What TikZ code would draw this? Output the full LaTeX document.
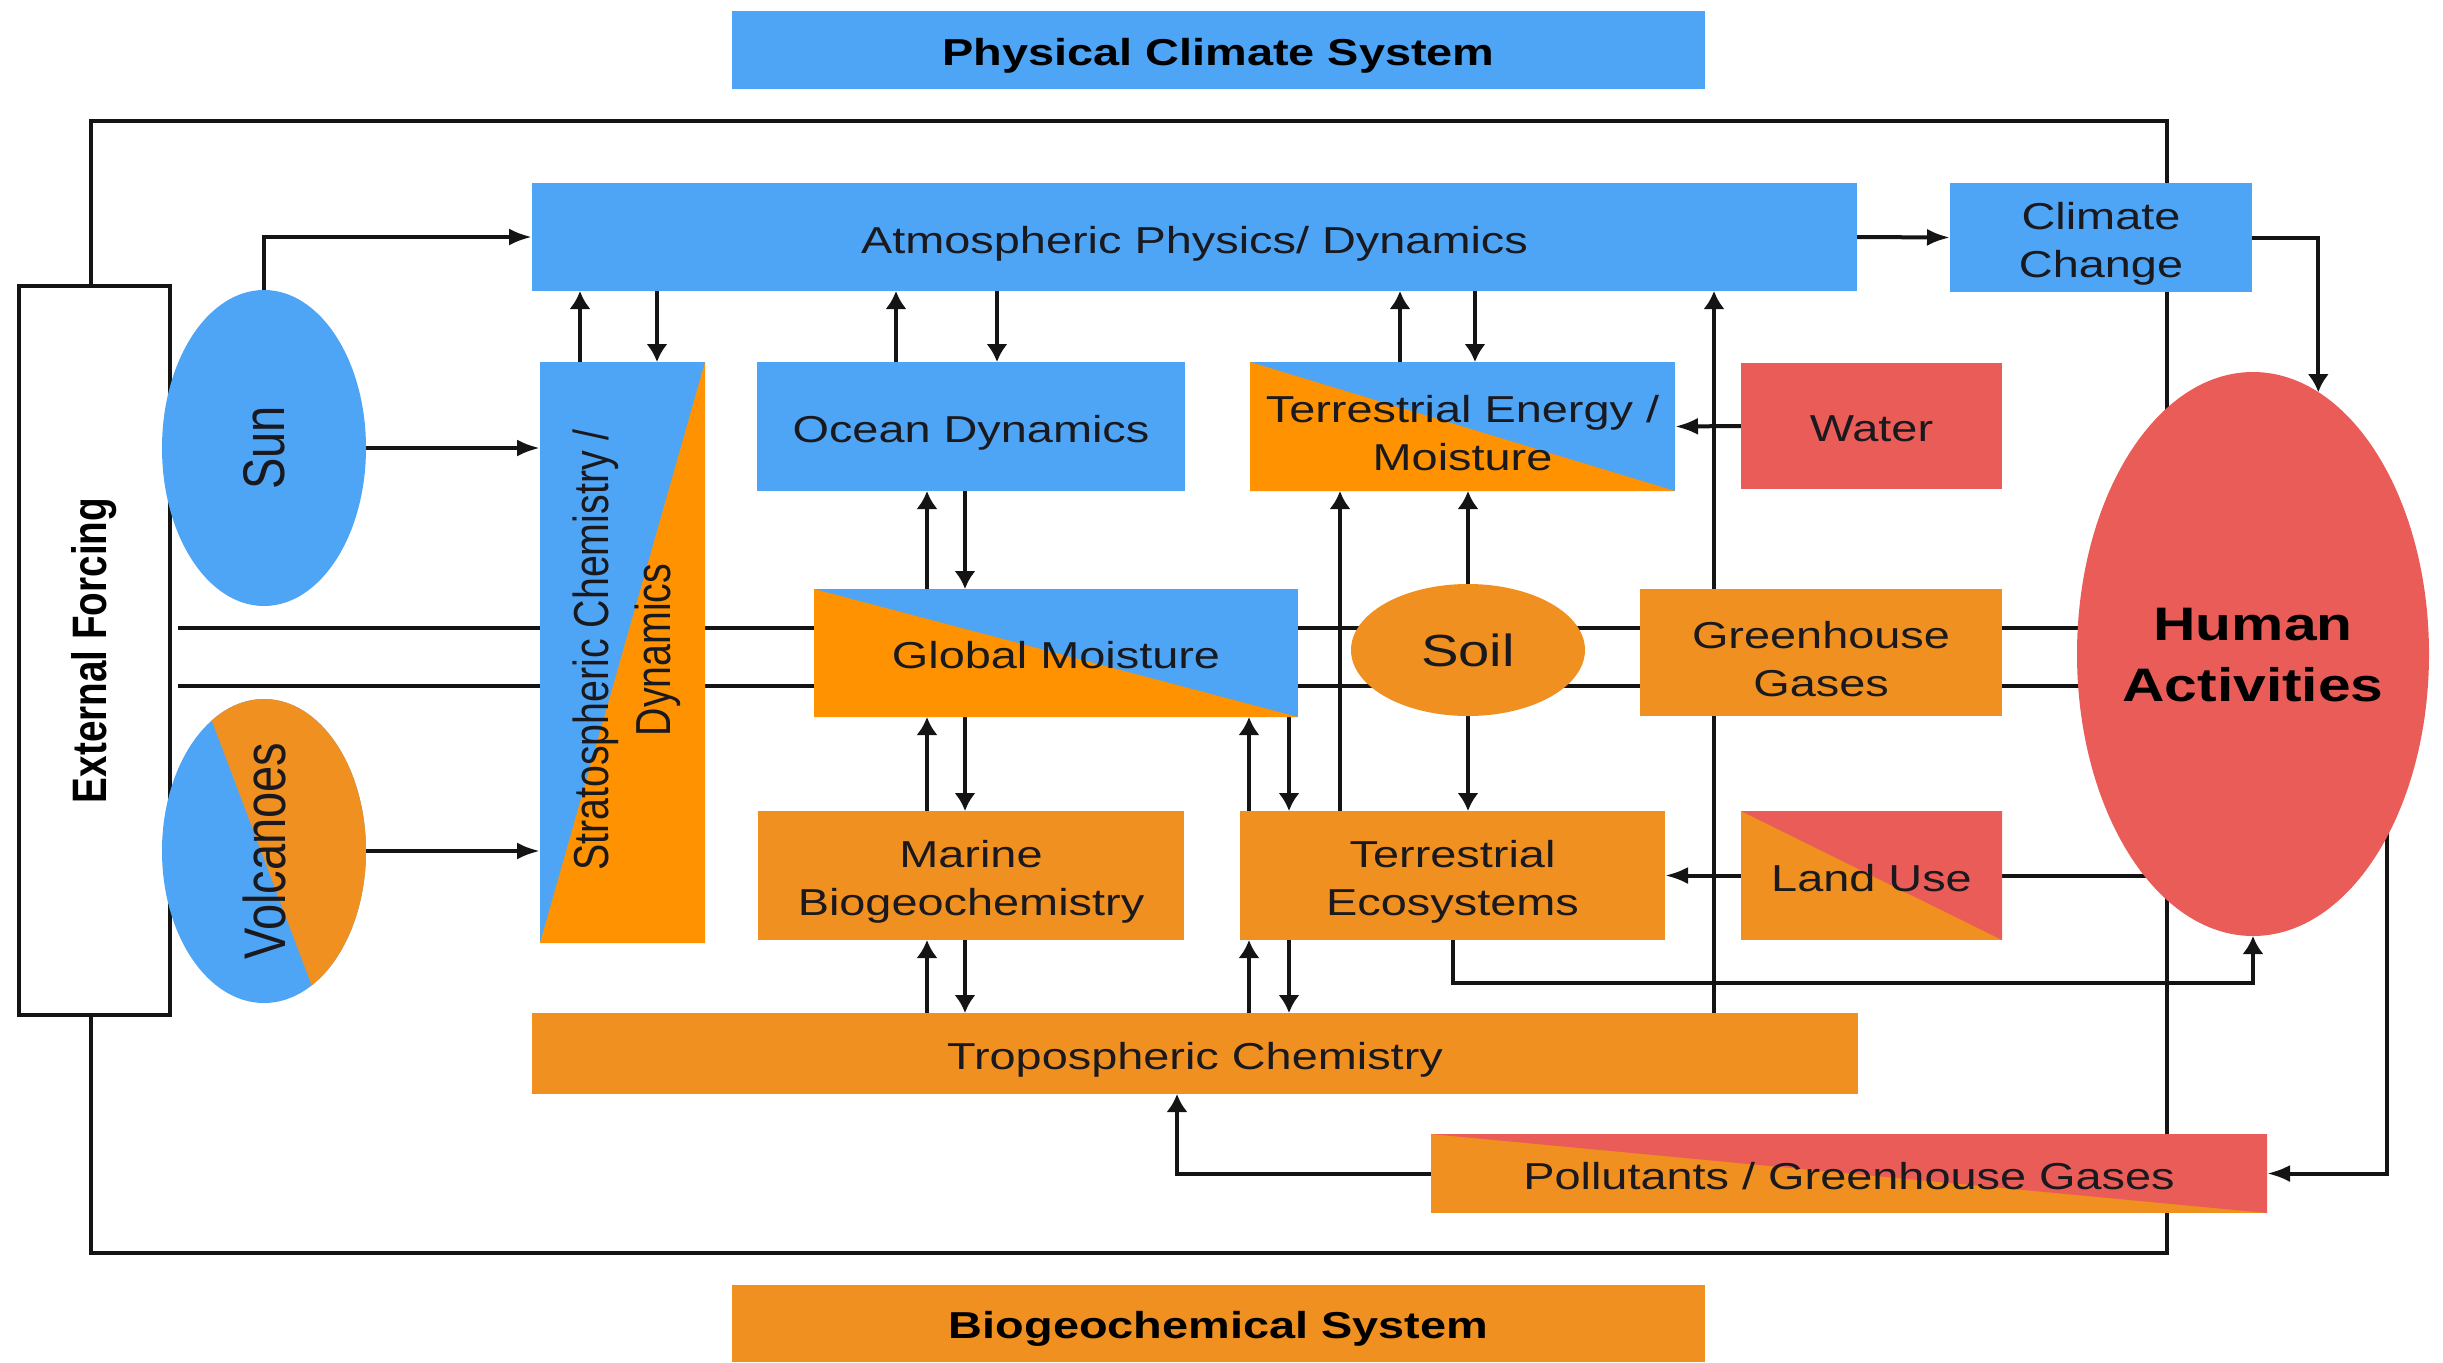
\documentclass[tikz,border=0pt]{standalone}
\usepackage{fontspec}
\setmainfont{Liberation Sans}[FakeStretch=1.25]
\newfontfamily\rotfont{Liberation Sans}
\usepackage{graphicx}
\usetikzlibrary{shapes.geometric, arrows.meta, backgrounds}
\definecolor{cblue}{RGB}{78,164,245}
\definecolor{corg}{RGB}{240,144,32}
\definecolor{corgb}{RGB}{255,146,0}
\definecolor{cred}{RGB}{234,92,88}
\definecolor{ctxt}{RGB}{25,25,30}
\definecolor{cline}{RGB}{20,20,20}
\begin{document}
\begin{tikzpicture}[x=0.3pt, y=-0.3pt,
  bx/.style 2 args={rectangle, inner sep=0pt, outer sep=0pt, minimum width=#1*0.3pt, minimum height=#2*0.3pt},
  lbl/.style={text=ctxt, font=\fontsize{11.25pt}{14.4pt}\selectfont, align=center},
  ttl/.style={text=black, font=\bfseries\fontsize{11.25pt}{14.4pt}\selectfont, align=center},
  ell/.style={ellipse, inner sep=0pt, outer sep=0pt},
  lowleft/.style={path picture={\fill[#1] (path picture bounding box.north west) -- (path picture bounding box.south west) -- (path picture bounding box.south east) -- cycle;}},
  upright/.style={path picture={\fill[#1] (path picture bounding box.north west) -- (path picture bounding box.north east) -- (path picture bounding box.south east) -- cycle;}},
  lowright/.style={path picture={\fill[#1] (path picture bounding box.north east) -- (path picture bounding box.south east) -- (path picture bounding box.south west) -- cycle;}},
  ln/.style={line width=1.2pt, draw=cline},
  ah/.style={ln, -{Latex[length=6.9pt,width=5.1pt]}},
  av/.style={ln, -{Latex[length=5.4pt,width=6.4pt]}}
]
\useasboundingbox (0,0) rectangle (2443,1362);

% titles
\node[bx={973}{78}, fill=cblue] (phys) at (1218.5,50) {};
\node[ttl] at ([yshift=-1.6pt]phys.center) {Physical Climate System};
\node[bx={973}{77}, fill=corg] (bio) at (1218.5,1323.5) {};
\node[ttl] at ([yshift=-1.6pt]bio.center) {Biogeochemical System};

% external forcing
\node[bx={151}{729}, fill=white, draw=cline, line width=1.2pt] (extf) at (94.5,650.5) {};
\node[rotate=90, text=black, font=\rotfont\bfseries\fontsize{11.6pt}{14pt}\selectfont] at (extf) {\scalebox{1}[1.25]{External Forcing}};

% sun and volcanoes
\node[ell, fill=cblue, minimum width=204*0.3pt, minimum height=316*0.3pt] (sun) at (264,448) {};
\node[rotate=90, text=ctxt, font=\rotfont\fontsize{14.1pt}{16pt}\selectfont] at (sun) {\scalebox{1}[1.25]{Sun}};
\node[ell, fill=cblue, minimum width=204*0.3pt, minimum height=304*0.3pt] (volc) at (264,851) {};
\begin{scope}
  \clip (volc.center) ellipse [x radius=30.6pt, y radius=45.6pt];
  \fill[corg] (163,591) -- (359,1111) -- (500,1111) -- (500,591) -- cycle;
\end{scope}
\node[rotate=90, text=ctxt, font=\rotfont\fontsize{14.1pt}{16pt}\selectfont] at (volc) {\scalebox{1}[1.25]{Volcanoes}};

% physical boxes
\node[bx={1325}{108}, fill=cblue] (atm) at (1194.5,237) {};
\node[lbl] at ([yshift=-2pt]atm.center) {Atmospheric Physics/ Dynamics};
\node[bx={302}{109}, fill=cblue] (clim) at (2101,237.5) {};
\node[lbl] at ([yshift=-2pt]clim.center) {Climate\\Change};
\node[bx={165}{581}, fill=cblue, lowright=corgb] (strat) at (622.5,652.5) {};
\node[rotate=90, text=ctxt, font=\rotfont\fontsize{11.8pt}{15pt}\selectfont] at (627,650) {\scalebox{1}[1.25]{\begin{tabular}{@{}c@{}}Stratospheric Chemistry /\\Dynamics\end{tabular}}};
\node[bx={428}{129}, fill=cblue] (ocean) at (971,426.5) {};
\node[lbl] at ([yshift=-2pt]ocean.center) {Ocean Dynamics};
\node[bx={425}{129}, fill=cblue, lowleft=corgb] (terrE) at (1462.5,426.5) {};
\node[lbl] at ([yshift=-2pt]terrE.center) {Terrestrial Energy /\\Moisture};
\node[bx={261}{126}, fill=cred] (water) at (1871.5,426) {};
\node[lbl] at ([yshift=-0.7pt]water.center) {Water};
\node[bx={484}{128}, fill=cblue, lowleft=corgb] (glob) at (1056,653) {};
\node[lbl] at ([yshift=-0.7pt]glob.center) {Global Moisture};
\node[ell, fill=corg, minimum width=234*0.3pt, minimum height=132*0.3pt] (soil) at (1468,650) {};
\node[text=ctxt, font=\fontsize{13.5pt}{16pt}\selectfont] at (soil) {Soil};
\node[bx={362}{127}, fill=corg] (ghg) at (1821,652.5) {};
\node[lbl] at ([yshift=-2pt]ghg.center) {Greenhouse\\Gases};
\node[ell, fill=cred, minimum width=352*0.3pt, minimum height=564*0.3pt] (human) at (2253,654) {};
\node[text=black, align=center, font=\bfseries\fontsize{14.1pt}{18.3pt}\selectfont] at (2253,655) {Human\\Activities};

% biogeochemical boxes
\node[bx={426}{129}, fill=corg] (marine) at (971,875.5) {};
\node[lbl] at ([yshift=-2pt]marine.center) {Marine\\Biogeochemistry};
\node[bx={425}{129}, fill=corg] (teco) at (1452.5,875.5) {};
\node[lbl] at ([yshift=-2pt]teco.center) {Terrestrial\\Ecosystems};
\node[bx={261}{129}, fill=corg, upright=cred] (land) at (1871.5,875.5) {};
\node[lbl] at ([yshift=-0.7pt]land.center) {Land Use};
\node[bx={1326}{81}, fill=corg] (trop) at (1195,1053.5) {};
\node[lbl] at ([yshift=-2pt]trop.center) {Tropospheric Chemistry};
\node[bx={836}{79}, fill=corg, upright=cred] (poll) at (1849,1173.5) {};
\node[lbl] at ([yshift=-0.7pt]poll.center) {Pollutants / Greenhouse Gases};

% helper coordinates
\coordinate (xa) at (580,0);
\coordinate (xb) at (657,0);
\coordinate (xc) at (896,0);
\coordinate (xd) at (997,0);
\coordinate (xe) at (1400,0);
\coordinate (xf) at (1475,0);
\coordinate (xg) at (927,0);
\coordinate (xh) at (965,0);
\coordinate (xi) at (1249,0);
\coordinate (xj) at (1289,0);
\coordinate (xk) at (1340,0);
\coordinate (xm) at (1714,0);
\coordinate (xn) at (1177,0);
\coordinate (f1) at (178,628);
\coordinate (f2) at (178,686);

\begin{scope}[on background layer]
  \draw[ln] (91,121) rectangle (2167,1253);
  \draw[ln] (f1) -- (f1 -| human.center);
  \draw[ln] (f2) -- (f2 -| human.center);
  \draw[ah] (sun.north) |- (atm.west);
  \draw[ah] (sun.east) -- (sun.east -| strat.west);
  \draw[ah] (volc.east) -- (volc.east -| strat.west);
  \draw[av] (strat.north -| xa) -- (atm.south -| xa);
  \draw[av] (atm.south -| xb) -- (strat.north -| xb);
  \draw[av] (ocean.north -| xc) -- (atm.south -| xc);
  \draw[av] (atm.south -| xd) -- (ocean.north -| xd);
  \draw[av] (terrE.north -| xe) -- (atm.south -| xe);
  \draw[av] (atm.south -| xf) -- (terrE.north -| xf);
  \draw[ah] (atm.east) -- (clim.west);
  \draw[av] (clim.east) -| (human.76);
  \draw[ah] (water.west) -- (terrE.east);
  \draw[av] (glob.north -| xg) -- (ocean.south -| xg);
  \draw[av] (ocean.south -| xh) -- (glob.north -| xh);
  \draw[av] (marine.north -| xg) -- (glob.south -| xg);
  \draw[av] (glob.south -| xh) -- (marine.north -| xh);
  \draw[av] (trop.north -| xg) -- (marine.south -| xg);
  \draw[av] (marine.south -| xh) -- (trop.north -| xh);
  \draw[av] (teco.north -| xi) -- (glob.south -| xi);
  \draw[av] (glob.south -| xj) -- (teco.north -| xj);
  \draw[av] (trop.north -| xi) -- (teco.south -| xi);
  \draw[av] (teco.south -| xj) -- (trop.north -| xj);
  \draw[av] (teco.north -| xk) -- (terrE.south -| xk);
  \draw[av] (soil.north) -- (terrE.south -| soil.north);
  \draw[av] (soil.south) -- (teco.north -| soil.south);
  \draw[av] (trop.north -| xm) -- (atm.south -| xm);
  \draw[ah] (land.west) -- (teco.east);
  \draw[ln] (land.east) -- (land.east -| human.center);
  \draw[av] (teco.south) -- ++(0,43) -| (human.south);
  \draw[ah] ([xshift=40.2pt]human.center) |- (poll.east);
  \draw[av] (poll.west) -| (trop.south -| xn);
\end{scope}
\end{tikzpicture}
\end{document}
